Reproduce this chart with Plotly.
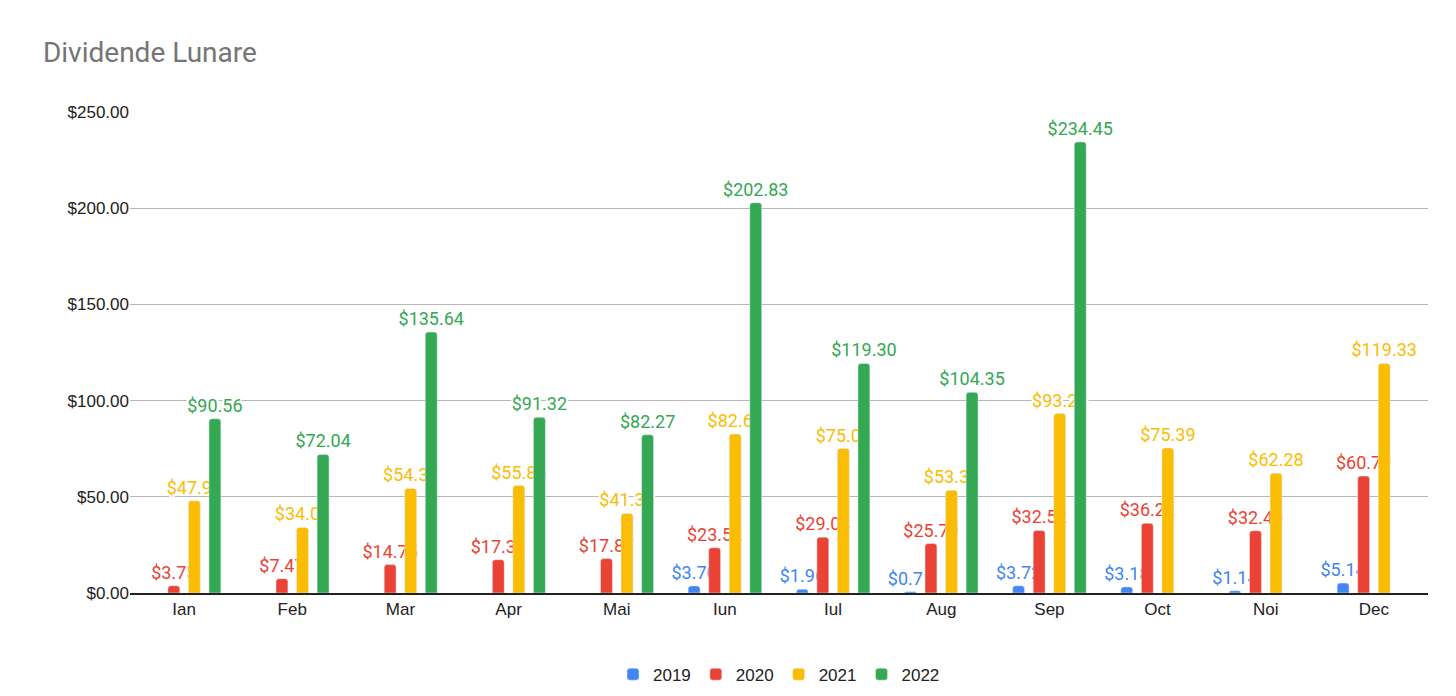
import plotly.graph_objects as go

months = ["Ian", "Feb", "Mar", "Apr", "Mai", "Iun", "Iul", "Aug", "Sep", "Oct", "Noi", "Dec"]
data = {
    "2019": [None, None, None, None, None, 3.70, 1.96, 0.71, 3.72, 3.18, 1.14, 5.14],
    "2020": [3.75, 7.47, 14.75, 17.31, 17.87, 23.52, 29.04, 25.70, 32.52, 36.22, 32.40, 60.79],
    "2021": [47.90, 34.07, 54.37, 55.86, 41.36, 82.61, 75.08, 53.35, 93.29, 75.39, 62.28, 119.33],
    "2022": [90.56, 72.04, 135.64, 91.32, 82.27, 202.83, 119.30, 104.35, 234.45, None, None, None],
}
colors = {"2019": "#4285f4", "2020": "#ea4335", "2021": "#fbbc04", "2022": "#34a853"}
halo = "-2px -2px 0 white, 2px -2px 0 white, -2px 2px 0 white, 2px 2px 0 white, 0 2px 0 white, 0 -2px 0 white, 2px 0 0 white, -2px 0 0 white"

fig = go.Figure()
for year, vals in data.items():
    fig.add_trace(go.Bar(
        x=months, y=vals, name=year, marker_color=colors[year],
        marker_cornerradius=3,
        text=[f"${v:.2f}" if v is not None else "" for v in vals],
        textposition="outside", cliponaxis=False, constraintext="none",
        textfont=dict(color=colors[year], size=18, shadow=halo),
    ))

fig.update_layout(
    width=1456, height=696,
    title=dict(text="Dividende Lunare", x=0.024, y=0.95, font=dict(size=28, color="#757575")),
    font=dict(family="Roboto, Arial", color="#222"),
    plot_bgcolor="white", paper_bgcolor="white",
    barmode="group", bargap=0.24, bargroupgap=0.42,
    margin=dict(l=122, r=36, t=104, b=110),
    yaxis=dict(range=[0, 250], dtick=50, tickprefix="$", tickformat=".2f", automargin=False,
               gridcolor="#b7b7b7", tickfont=dict(size=17, color="#222", family="Arial"), zeroline=False),
    xaxis=dict(tickfont=dict(size=17, color="#222", family="Arial"), showline=True,
               linecolor="#222", linewidth=2, automargin=False),
    legend=dict(orientation="h", x=0.5, xanchor="center", y=-0.13, yanchor="top",
                font=dict(size=17, family="Arial"), itemwidth=30),
)
fig.write_html("out.html")
